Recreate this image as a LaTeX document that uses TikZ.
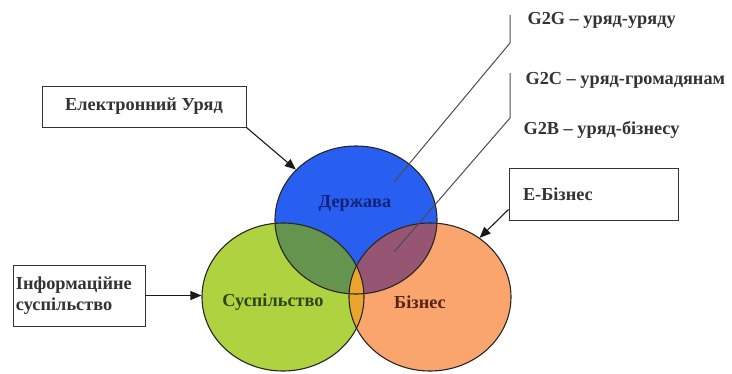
\documentclass[tikz,border=0pt]{standalone}
\usepackage{fontspec}
\setmainfont{Liberation Serif}
\usepackage{tikz}
\usetikzlibrary{arrows.meta, positioning, shapes.geometric}
\usepackage{xcolor}
\definecolor{cblue}{RGB}{40,95,240}
\definecolor{cgreen}{RGB}{175,210,65}
\definecolor{corange}{RGB}{250,165,110}
\definecolor{cbluegreen}{RGB}{100,148,78}
\definecolor{cblueorange}{RGB}{150,85,115}
\definecolor{cgreenorange}{RGB}{235,165,45}
\definecolor{tblue}{RGB}{20,35,120}
\definecolor{tgreen}{RGB}{45,70,20}
\definecolor{tbrown}{RGB}{90,35,25}

\begin{document}
\begin{tikzpicture}[x=1pt, y=-1pt, font=\fontsize{18.3}{23.5}\selectfont\bfseries,
    box/.style={draw=black!80, line width=1pt, fill=white, text=black!80},
    ring/.style={ellipse, draw=black!85, line width=1.1pt, minimum width=162pt, minimum height=148pt, inner sep=0pt},
    pointer/.style={-{Triangle[length=11pt,width=9pt]}, line width=1.1pt, black!90},
    callout/.style={draw=black!70, line width=1pt}]
        \useasboundingbox (0,0) rectangle (732,373);

        % Draw the coloured circles
        \fill[cblue] (356,220) ellipse [x radius=81, y radius=74];
        \fill[cgreen] (283,297) ellipse [x radius=81, y radius=74];
        \fill[corange] (430,297) ellipse [x radius=81, y radius=74];

        % Overlaps
        \begin{scope}
            \clip (356,220) ellipse [x radius=81, y radius=74];
            \fill[cbluegreen] (283,297) ellipse [x radius=81, y radius=74];
            \fill[cblueorange] (430,297) ellipse [x radius=81, y radius=74];
        \end{scope}
        \begin{scope}
            \clip (283,297) ellipse [x radius=81, y radius=74];
            \fill[cgreenorange] (430,297) ellipse [x radius=81, y radius=74];
        \end{scope}

        % Outlines
        \node[ring] (derzhava) at (356,220) {};
        \node[ring] (suspilstvo) at (283,297) {};
        \node[ring] (biznes) at (430,297) {};

        % Labels
        \node[text=tblue] (derzhavatxt) at (355,203) {Держава};
        \node[text=tgreen] (suspilstvotxt) at (273,302) {Суспільство};
        \node[text=tbrown] (biznestxt) at (420,302) {Бізнес};

        % Boxes
        \node[box, minimum width=204pt, minimum height=41pt] (eurad) at (144,106.5) {Електронний Уряд};
        \node[box, minimum width=132pt, minimum height=61pt, text width=126pt, inner xsep=3pt, align=left] (infsusp) at (79,295.5) {Інформаційне\\[-2pt]суспільство};
        \node[box, minimum width=169pt, minimum height=52pt, text width=141pt, inner xsep=14pt, align=left] (ebiz) at (593.5,194) {Е-Бізнес};

        \draw[pointer] (eurad.south east) -- (derzhava.140);
        \draw[pointer] (infsusp.east) -- (infsusp.east -| suspilstvo.west);
        \draw[pointer] ([yshift=11pt]ebiz.south west) -- (biznes.50);

        % Government relations
        \node[anchor=west, text=black!80] (g2g) at (524,20) {G2G – уряд-уряду};
        \node[anchor=west, text=black!80] (g2c) at (522,80) {G2C – уряд-громадянам};
        \node[anchor=west, text=black!80] (g2b) at (520,130) {G2B – уряд-бізнесу};

        \coordinate (g2gtop) at (510,15);
        \coordinate (g2gend) at (394,182);
        \coordinate (g2ctop) at (510,73);
        \coordinate (g2cend) at (394,252);
        \draw[callout] (g2gtop) -- ++(0,28) -- (g2gend);
        \draw[callout] (g2ctop) -- ++(0,45) -- (g2cend);
    \end{tikzpicture}
\end{document}
